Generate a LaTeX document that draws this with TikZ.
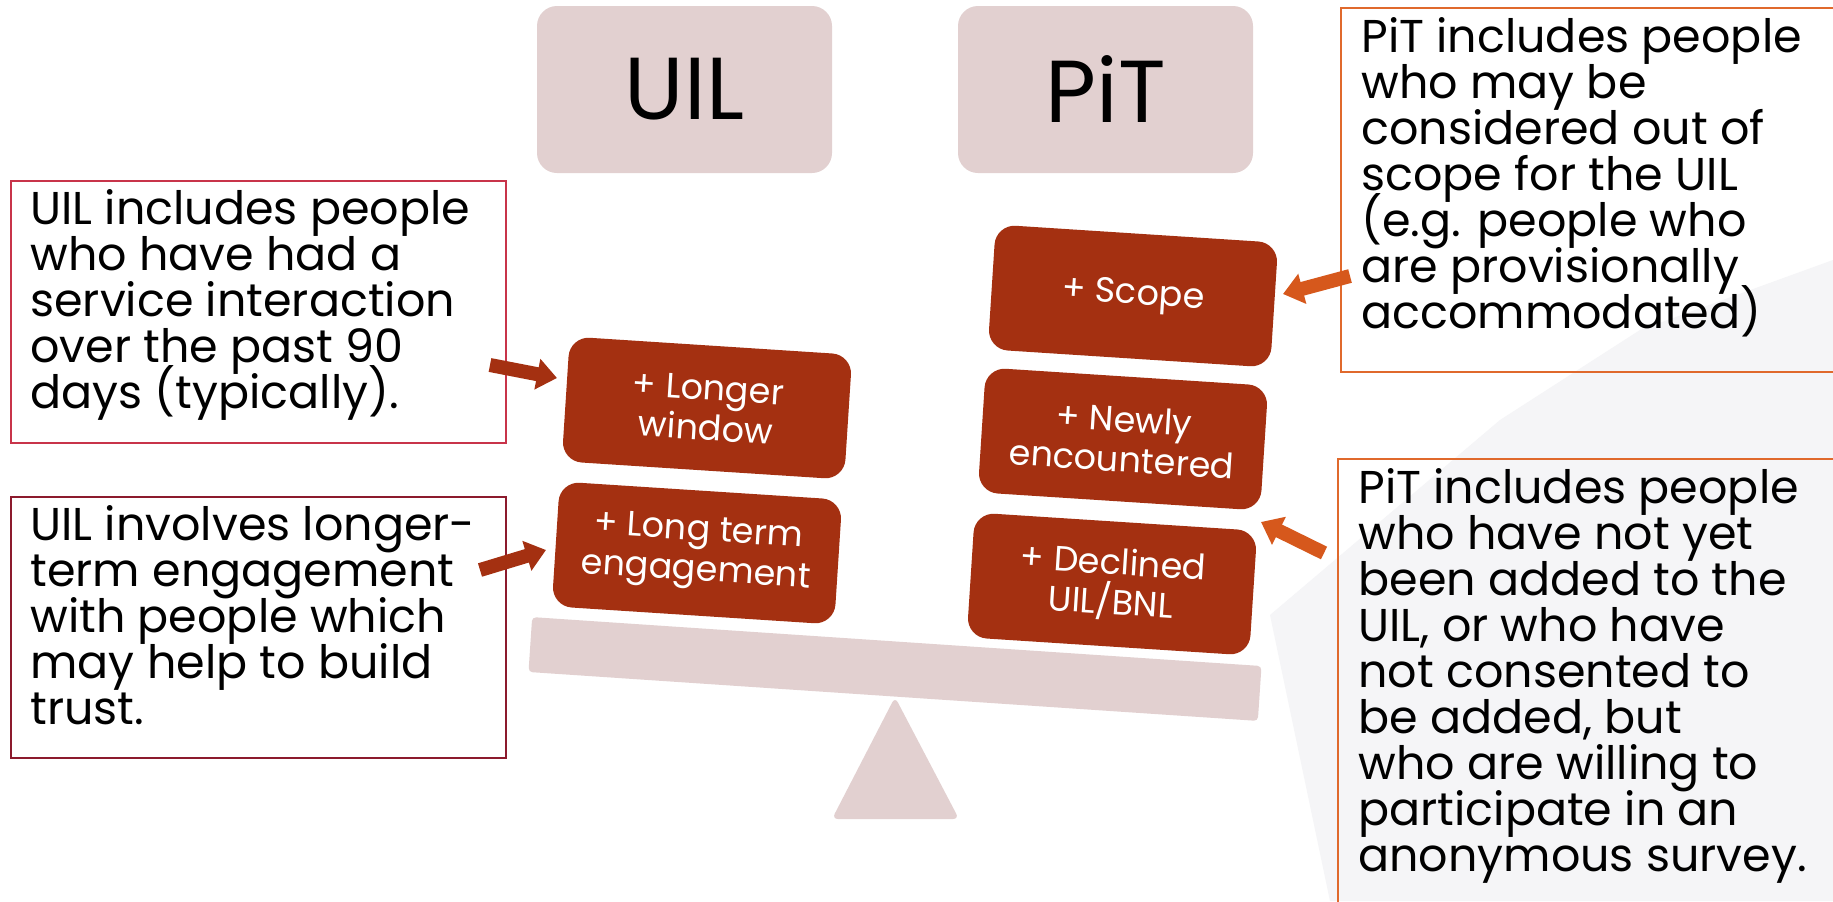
\documentclass[tikz,border=0pt]{standalone}
\usepackage{fontspec}
\setmainfont{Poppins}
\usetikzlibrary{arrows.meta,calc}
\definecolor{brick}{HTML}{A43011}
\definecolor{pinkish}{HTML}{E2D0D0}
\definecolor{orng}{HTML}{D6581C}
\definecolor{redb}{HTML}{C8344A}
\definecolor{maroonb}{HTML}{8C1A2D}
\definecolor{orngb}{HTML}{E0692C}
\definecolor{wm}{HTML}{F5F5F7}
\newcommand\mylines[1]{\vtop{\lineskiplimit=-1000pt\relax\halign{##\hfil\cr#1\crcr}}}
\begin{document}
\begin{tikzpicture}[x=0.5pt,y=-0.5pt,
  title/.style={fill=pinkish, rounded corners=10pt, minimum width=147.5pt, minimum height=83.5pt, font=\fontsize{44}{44}\selectfont, inner sep=0},
  block/.style={fill=brick, text=white, rounded corners=10pt, minimum width=141.5pt, minimum height=62.5pt, rotate=-3.7, align=center, font=\fontsize{17.5}{20}\selectfont, inner sep=0},
  tbox/.style={draw=#1, line width=1pt, anchor=north west, inner sep=0},
  ttext/.style={anchor=base west, inner sep=0, font=\fontsize{23}{23}\selectfont},
  bigarrow/.style={draw=#1, line width=7pt, -{Triangle[length=10pt,width=15pt]}}]
\useasboundingbox[fill=white] (0,0) rectangle (1833,901);
% watermark
\fill[wm] (1270,615) -- (1500,420) -- (1640,330) -- (1833,260) -- (1833,901) -- (1330,901) -- cycle;
% text boxes
\node[tbox=redb, minimum width=247.5pt, minimum height=131pt] (b1) at (10,180) {};
\node[tbox=maroonb, minimum width=247.5pt, minimum height=130.5pt] (b2) at (10,496) {};
\node[tbox=orngb, minimum width=250pt, minimum height=182pt] (b3) at (1340,7) {};
\node[tbox=orngb, minimum width=251.5pt, minimum height=226pt] (b4) at (1337,458) {};
% titles
\node[title] (uil) at (684.5,89.5) {UIL};
\node[title] (pit) at (1105.5,89.5) {PiT};
% scale
\fill[pinkish, rounded corners=3pt] (895,697) -- (959,819) -- (832,819) -- cycle;
\node[fill=pinkish, minimum width=365.5pt, minimum height=27.5pt, rotate=-3.84, inner sep=0, rounded corners=2pt] (beam) at (895,669) {};
% blocks
\node[block] (lw) at (707,408) {+ Longer\\window};
\node[block] (lt) at (697,553) {+ Long term\\engagement};
\node[block] (sc) at (1133,296) {+ Scope};
\node[block] (ne) at (1123,439) {+ Newly\\encountered};
\node[block] (de) at (1112,584) {+ Declined\\UIL/BNL};
% texts
\node[ttext] (t1) at (30,224) {\mylines{UIL includes people\cr who have had a\cr service interaction\cr over the past 90\cr days (typically).}};
\node[ttext] (t2) at (30,540) {\mylines{UIL involves longer-\cr term engagement\cr with people which\cr may help to build\cr trust.}};
\node[ttext] (t3) at (1361,52) {\mylines{PiT includes people\cr who may be\cr considered out of\cr scope for the UIL\cr (e.g. people who\cr are provisionally\cr accommodated)}};
\node[ttext] (t4) at (1358,503) {\mylines{PiT includes people\cr who have not yet\cr been added to the\cr UIL, or who have\cr not consented to\cr be added, but\cr who are willing to\cr participate in an\cr anonymous survey.}};
% arrows
\coordinate (a1s) at (490,365); \coordinate (a1e) at (557,378);
\coordinate (a2s) at (480,570); \coordinate (a2e) at (546,550);
\coordinate (a3s) at (1350,276); \coordinate (a3e) at (1283,294);
\coordinate (a4s) at (1324,553); \coordinate (a4e) at (1261,522);
\draw[bigarrow=brick] (a1s) -- (a1e);
\draw[bigarrow=brick] (a2s) -- (a2e);
\draw[bigarrow=orng] (a3s) -- (a3e);
\draw[bigarrow=orng] (a4s) -- (a4e);
\end{tikzpicture}
\end{document}
